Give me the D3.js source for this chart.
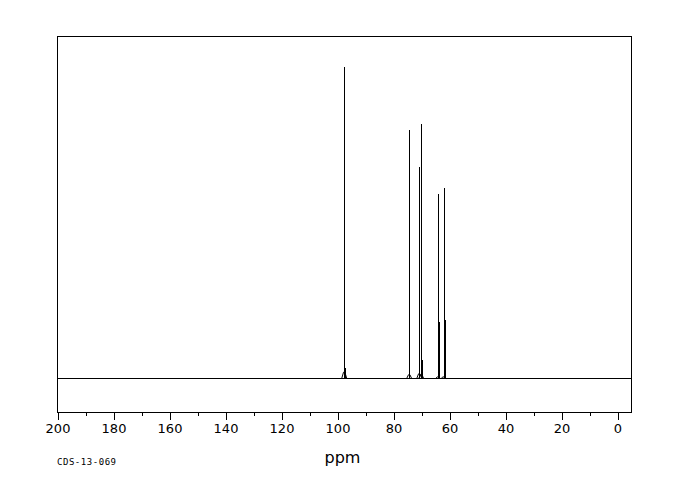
<!DOCTYPE html>
<html>
<head>
<meta charset="utf-8">
<script src="https://cdn.jsdelivr.net/npm/d3@7"></script>
<style>
  html, body { margin: 0; padding: 0; background: #fff; }
  svg { display: block; }
  text { fill: #000; }
</style>
</head>
<body>
<svg id="chart" width="680" height="500"></svg>
<script>
// ---- data ----
const peakPpm      = [97.6, 74.4, 70.8, 70.1, 64.1, 62.1];
const peakHeight   = [100, 79.7, 67.9, 81.6, 59.1, 61.2];
const shoulderHgt  = [3.3, 0, 0, 5.9, 18.2, 18.7];
const footHeight   = [2.0, 1.2, 1.5, 1.2, 0.5, 0.5];
const tickValues   = [200, 180, 160, 140, 120, 100, 80, 60, 40, 20, 0];
const minorTicks   = [190, 170, 150, 130, 110, 90, 70, 50, 30, 10];
const xLabel = "ppm";
const sampleId = "CDS-13-069";

const svg = d3.select("#chart");
const frame = {left: 57.5, top: 36.5, right: 631.5, bottom: 412.5};

const x = d3.scaleLinear().domain([200, 0]).range([57.5, 617.5]);
const y = d3.scaleLinear().domain([0, 100]).range([378.5, 66.5]);

// frame
svg.append("rect")
  .attr("x", frame.left).attr("y", frame.top)
  .attr("width", frame.right - frame.left).attr("height", frame.bottom - frame.top)
  .attr("fill", "none").attr("stroke", "#000").attr("stroke-width", 1)
  .attr("shape-rendering", "crispEdges");

// axis
const axis = d3.axisBottom(x).tickValues(tickValues).tickSize(8).tickPadding(4)
  .tickFormat(d3.format("d"));
const gAxis = svg.append("g").attr("transform", `translate(0,${frame.bottom - 0.5})`).call(axis);
gAxis.select(".domain").remove();
gAxis.selectAll("line").attr("stroke", "#000").attr("shape-rendering", "crispEdges");
gAxis.selectAll("text").attr("font-family", "DejaVu Sans").attr("font-size", 13)
  .attr("fill", "#000").attr("dy", "0.71em");
const gMinor = svg.append("g").attr("transform", `translate(0,${frame.bottom - 0.5})`)
  .call(d3.axisBottom(x).tickValues(minorTicks).tickSize(4).tickFormat(""));
gMinor.select(".domain").remove();
gMinor.selectAll("line").attr("stroke", "#000").attr("shape-rendering", "crispEdges");

// spectrum: baseline across the full frame width
const line = d3.line().x(d => x(d[0])).y(d => y(d[1]));
svg.append("path")
  .attr("d", line([[x.invert(frame.left), 0], [x.invert(frame.right), 0]]))
  .attr("stroke", "#000").attr("fill", "none").attr("stroke-width", 1)
  .attr("shape-rendering", "crispEdges");

const peaks = peakPpm.map((p, i) => ({p, h: peakHeight[i], s: shoulderHgt[i], f: footHeight[i]}));

// small feet at each peak base
svg.append("g").selectAll("path.foot").data(peaks).join("path")
  .attr("class", "foot")
  .attr("d", d => line([[d.p + 0.9, 0], [d.p + 0.25, d.f], [d.p - 0.25, d.f], [d.p - 0.9, 0]]))
  .attr("stroke", "#000").attr("fill", "none").attr("stroke-width", 1);

// spikes
svg.append("g").selectAll("line.spike").data(peaks).join("line")
  .attr("class", "spike")
  .attr("x1", d => Math.round(x(d.p)) + 0.5).attr("x2", d => Math.round(x(d.p)) + 0.5)
  .attr("y1", y(0)).attr("y2", d => y(d.h))
  .attr("stroke", "#000").attr("stroke-width", 1).attr("shape-rendering", "crispEdges");

// thicker lower parts
svg.append("g").selectAll("line.shoulder").data(peaks.filter(d => d.s > 0)).join("line")
  .attr("class", "shoulder")
  .attr("x1", d => Math.round(x(d.p)) + 1).attr("x2", d => Math.round(x(d.p)) + 1)
  .attr("y1", y(0)).attr("y2", d => y(d.s))
  .attr("stroke", "#000").attr("stroke-width", 2).attr("shape-rendering", "crispEdges");

// labels
svg.append("text").attr("x", 342.5).attr("y", 463)
  .attr("text-anchor", "middle").attr("font-family", "DejaVu Sans").attr("font-size", 16)
  .text(xLabel);
svg.append("text").attr("x", 57).attr("y", 465)
  .attr("font-family", "DejaVu Sans Mono").attr("font-size", 9)
  .attr("textLength", 59).attr("lengthAdjust", "spacing")
  .text(sampleId);
</script>
</body>
</html>
